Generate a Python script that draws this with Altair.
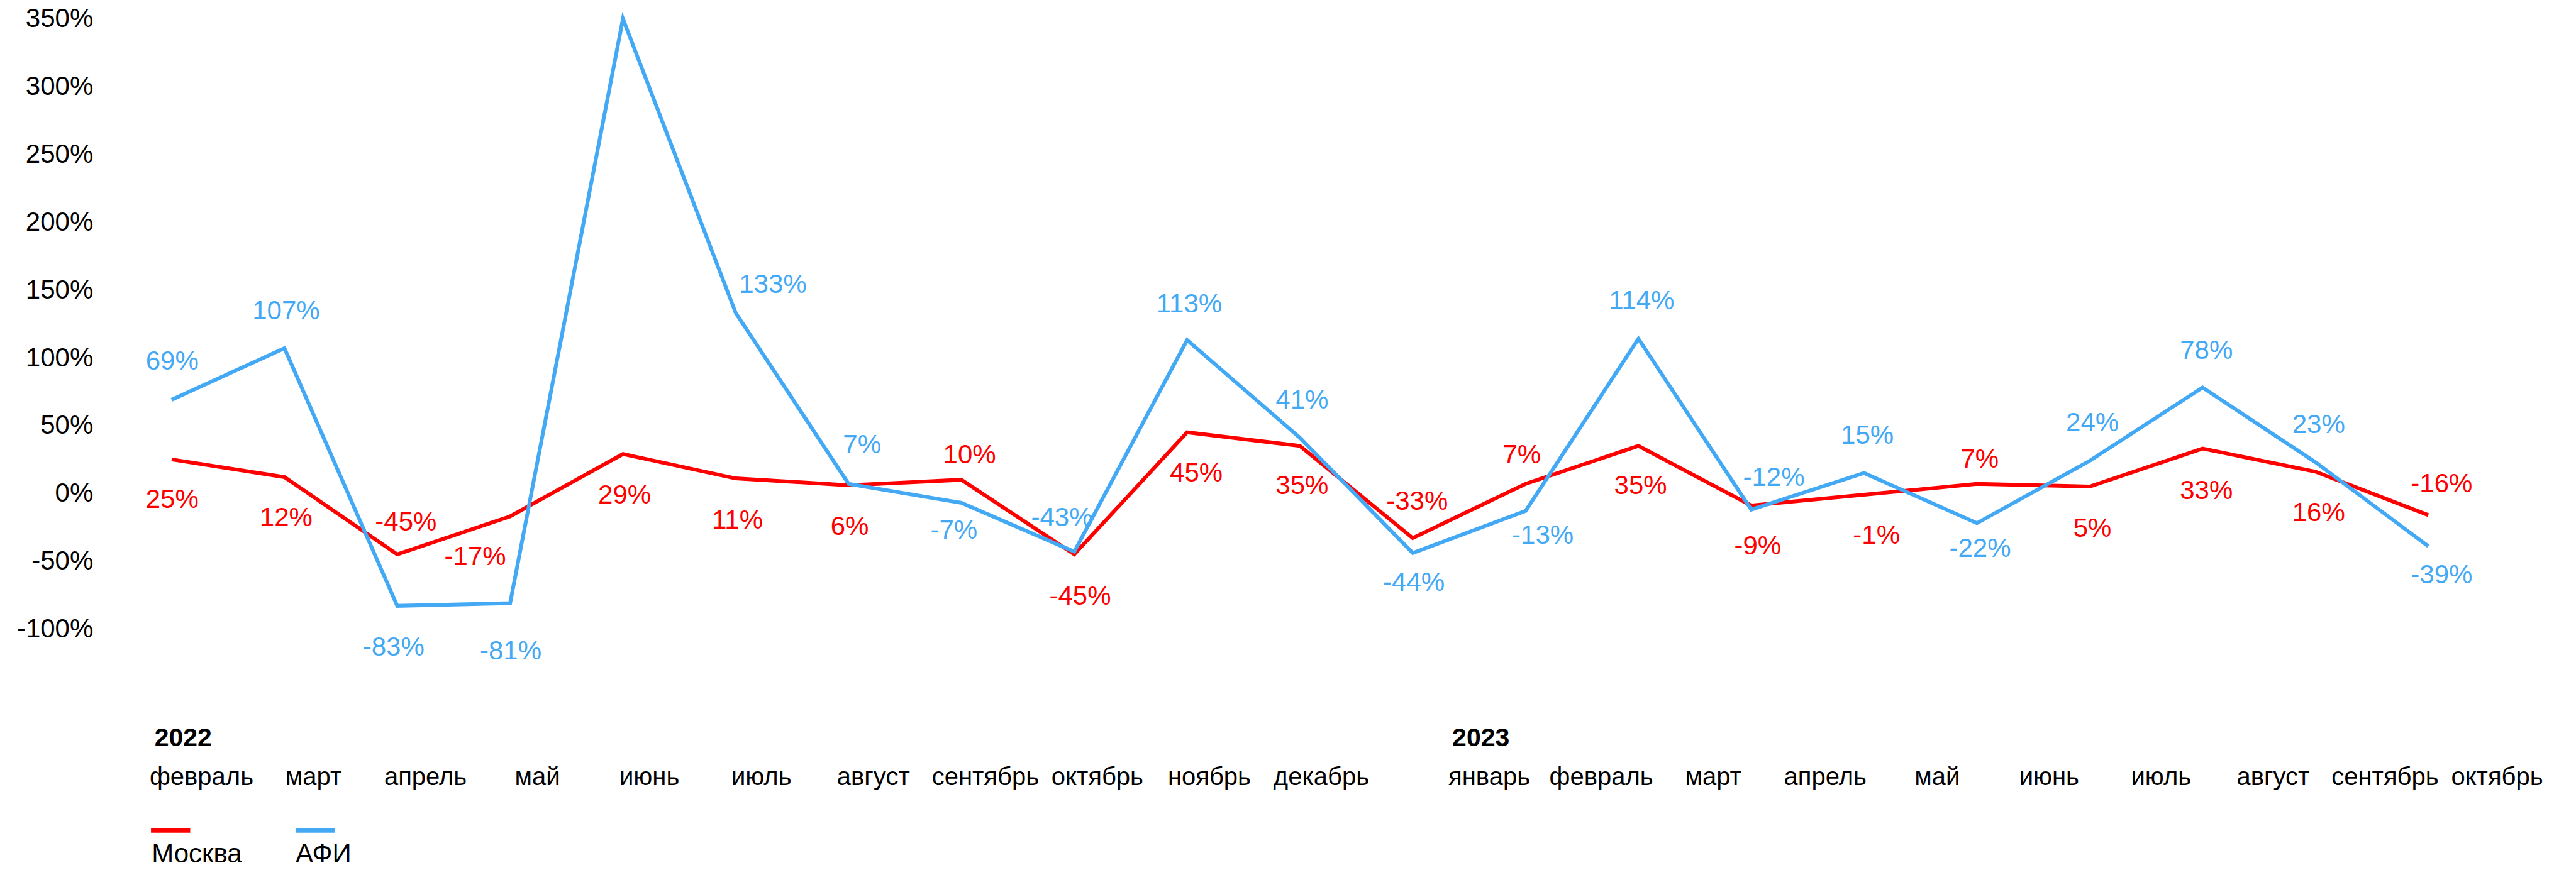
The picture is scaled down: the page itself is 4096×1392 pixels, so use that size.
import altair as alt
import pandas as pd

# ---------------- data ----------------
series = ["Москва", "АФИ"]
months_2022 = ["февраль", "март", "апрель", "май", "июнь", "июль", "август",
               "сентябрь", "октябрь", "ноябрь", "декабрь"]
months_2023 = ["январь", "февраль", "март", "апрель", "май", "июнь", "июль",
               "август", "сентябрь", "октябрь"]
years = ["2022", "2023"]

moscow = [25, 12, -45, -17, 29, 11, 6, 10, -45, 45, 35,
          -33, 7, 35, -9, -1, 7, 5, 33, 16, -16]
afi = [69, 107, -83, -81, 350, 133, 7, -7, -43, 113, 41,
       -44, -13, 114, -12, 15, -22, 24, 78, 23, -39]
afi_labelled = [True] * 4 + [False] + [True] * 16

y_ticks = [-100, -50, 0, 50, 100, 150, 200, 250, 300, 350]

# label placement offsets (reference pixels, relative to the point)
moscow_dx = [1, 3, 16, -65, 3, 3, 2, 15, 11, 17, 4, 8, -7, 4, 12, 23, 5, 5, 7, 6, 25]
moscow_dy = [75, 76, -60, 75, 77, 78, 77, -46, 79, 76, 75, -68, -54, 75, 76, 76, -45, 78, 79, 77, -58]
afi_dx = [1, 3, -7, 1, 0, 69, 25, -14, -23, 4, 4, 2, 32, 6, 42, 6, 6, 5, 7, 6, 25]
afi_dy = [-71, -69, 78, 89, 0, -53, -72, 52, -63, -67, -70, 55, 46, -70, -59, -70, 48, -70, -69, -69, 54]

# ---------------- style / layout ----------------
S = 4096 / 4794
RED = "#FF0000"
BLUE = "#43A9F5"
FONT = "Liberation Sans"

W_TOTAL = 4070
H_TOTAL = 1374
plot_left = 319.4 * S - 8
plot_top = 35 * S - 8
plot_w = (4519 - 319.4) * S
plot_h = (1171 - 35) * S
slot_range = [(374.5 - 319.4) * S, (4646.5 - 319.4) * S]
LEG_SHIFT = -15

n = len(moscow)
idx = list(range(n))


def frame(vals, name, dxs, dys, keep):
    return pd.DataFrame({
        "i": idx, "v": vals, "s": name,
        "lab": [f"{v}%" for v in vals],
        "dx": [d * S for d in dxs], "dy": [d * S for d in dys],
        "keep": keep,
    })


df_m = frame(moscow, series[0], moscow_dx, moscow_dy, [True] * n)
df_a = frame(afi, series[1], afi_dx, afi_dy, afi_labelled)

color = alt.Color("s:N", scale=alt.Scale(domain=series, range=[RED, BLUE]), legend=None)
x_idx = alt.X("i:Q", scale=alt.Scale(domain=[0, n - 1], nice=False, zero=False), axis=None)
y_val = alt.Y(
    "v:Q",
    scale=alt.Scale(domain=[y_ticks[0], y_ticks[-1]], nice=False, zero=False),
    axis=alt.Axis(values=y_ticks, labelExpr="datum.value + '%'", ticks=False, tickSize=0,
                  domain=False, grid=False, labelPadding=125.1, labelFontSize=42,
                  labelFont=FONT, labelColor="#000000", labelAlign="right",
                  labelBaseline="middle", title=None, labelOverlap=False),
)


def line(df, c):
    return alt.Chart(df).mark_line(strokeWidth=6, color=c, strokeJoin="miter").encode(x=x_idx, y=y_val)


def labels(df):
    return alt.Chart(df).transform_filter("datum.keep").mark_text(
        fontSize=42, font=FONT, align="center", baseline="middle",
        dx=alt.ExprRef(expr="datum.dx"), dy=alt.ExprRef(expr="datum.dy"),
    ).encode(x=x_idx, y=y_val, text="lab:N", color=color)


# month axis (slot positions, with half a slot between years)
slots = list(range(len(months_2022))) + [len(months_2022) + 0.5 + k for k in range(len(months_2023))]
month_names = months_2022 + months_2023
df_mon = pd.DataFrame({"slot": slots, "name": month_names})
slot_scale = alt.Scale(domain=[0, slots[-1]], range=slot_range, nice=False, zero=False)
names_js = "[" + ",".join(f"'{m}'" for m in month_names) + "]"
slots_js = "[" + ",".join(str(s) for s in slots) + "]"

month_axis = alt.Chart(df_mon).mark_point(opacity=0, size=1).encode(
    x=alt.X("slot:Q", scale=slot_scale,
            axis=alt.Axis(orient="bottom", values=slots,
                          labelExpr=f"{names_js}[indexof({slots_js}, datum.value)]",
                          ticks=False, tickSize=0, domain=False, grid=False,
                          labelPadding=(1461 * S - 8) - (plot_top + plot_h),
                          labelBaseline="alphabetic", labelAlign="center",
                          labelOverlap=False, labelFlush=False, labelBound=False,
                          labelFontSize=40, labelFont=FONT, labelColor="#000000",
                          title=None))
)

year_slots = [slots[0], slots[len(months_2022)]]
df_year = pd.DataFrame({"slot": year_slots, "year": years})
years_js = "[" + ",".join(f"'{y}'" for y in years) + "]"
yslots_js = "[" + ",".join(str(s) for s in year_slots) + "]"
year_axis = alt.Chart(df_year).mark_point(opacity=0, size=1).encode(
    x=alt.X("slot:Q", scale=slot_scale,
            axis=alt.Axis(orient="bottom", values=year_slots,
                          labelExpr=f"{years_js}[indexof({yslots_js}, datum.value)]",
                          ticks=False, tickSize=0, domain=False, grid=False,
                          labelPadding=(1388.5 * S - 8) - (plot_top + plot_h),
                          labelBaseline="alphabetic", labelAlign="left",
                          labelOffset={"condition": {"test": f"datum.value == {year_slots[0]}",
                                                     "value": -87.5 * S},
                                       "value": -69 * S},
                          labelOverlap=False, labelFlush=False, labelBound=False,
                          labelFontSize=41, labelFont=FONT, labelFontWeight="bold",
                          labelColor="#000000", title=None))
)

# custom legend: line key above the name
df_leg = pd.DataFrame({"k": [0, 1], "s": series})
leg_sym = alt.Chart(df_leg).mark_tick(orient="horizontal", size=73 * S, thickness=8 * S, opacity=1).encode(
    x=alt.X("k:Q", scale=alt.Scale(domain=[0, 1], range=[(317.5 - 319.4) * S, (586.5 - 319.4) * S]), axis=None),
    y=alt.value(1564 * S - 8 + LEG_SHIFT - plot_top),
    color=color,
)
leg_txt = alt.Chart(df_leg).mark_text(align="left", baseline="alphabetic", fontSize=42, font=FONT,
                                      color="#000000").encode(
    x=alt.X("k:Q", scale=alt.Scale(domain=[0, 1], range=[(282.3 - 319.4) * S, (550 - 319.4) * S]), axis=None),
    y=alt.value(1623 * S - 8 + LEG_SHIFT - plot_top),
    text="s:N",
)

chart = alt.layer(
    line(df_m, RED), line(df_a, BLUE), labels(df_m), labels(df_a),
    month_axis, year_axis, leg_sym, leg_txt,
).resolve_scale(x="independent").properties(
    width=plot_w, height=plot_h,
    padding={"left": plot_left, "top": plot_top,
             "right": W_TOTAL - plot_left - plot_w,
             "bottom": H_TOTAL - plot_top - plot_h},
    autosize=alt.AutoSizeParams(type="none"),
    background="white",
).configure_view(strokeWidth=0)

chart.save("out.html", embed_options={"renderer": "svg", "actions": False})
